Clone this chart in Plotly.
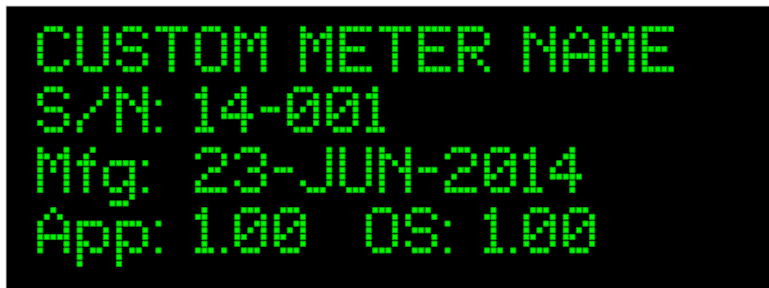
import plotly.graph_objects as go

# ---- content (text shown on the dot-matrix display) ----
TITLE = "CUSTOM METER NAME"
LABELS = ["S/N:", "Mfg:", "App:"]
VALUES = ["14-001", "23-JUN-2014", "1.00  OS: 1.00"]
VALUE_COL = 24      # values are aligned to this dot column
SPACE_W = 3         # width of a space glyph (dots)

# ---- 5x7 (proportional) dot font, rows 7-8 are descenders ----
FONT = {
    'C': [".###.", "#...#", "#....", "#....", "#....", "#...#", ".###."],
    'U': ["#...#", "#...#", "#...#", "#...#", "#...#", "#...#", ".###."],
    'S': [".###.", "#...#", "#....", ".###.", "....#", "#...#", ".###."],
    'T': ["#####", "..#..", "..#..", "..#..", "..#..", "..#..", "..#.."],
    'O': [".###.", "#...#", "#...#", "#...#", "#...#", "#...#", ".###."],
    'M': ["#...#", "##.##", "#.#.#", "#.#.#", "#...#", "#...#", "#...#"],
    'E': ["#####", "#....", "#....", "####.", "#....", "#....", "#####"],
    'R': ["####.", "#...#", "#...#", "####.", "#.#..", "#..#.", "#...#"],
    'N': ["#...#", "##..#", "#.#.#", "#..##", "#...#", "#...#", "#...#"],
    'A': ["..#..", ".#.#.", "#...#", "#...#", "#####", "#...#", "#...#"],
    'J': ["....#", "....#", "....#", "....#", "....#", "#...#", ".###."],
    '/': ["....#", "....#", "...#.", "..#..", ".#...", "#....", "#...."],
    ':': [".", ".", "#", ".", ".", ".", "#"],
    '.': [".", ".", ".", ".", ".", ".", "#"],
    '-': ["...", "...", "...", "###", "...", "...", "..."],
    '0': [".###.", "#...#", "#..##", "#.#.#", "##..#", "#...#", ".###."],
    '1': [".#.", "##.", ".#.", ".#.", ".#.", ".#.", "###"],
    '2': [".###.", "#...#", "....#", "..##.", ".#...", "#....", "#####"],
    '3': [".###.", "#...#", "....#", "..##.", "....#", "#...#", ".###."],
    '4': ["...#.", "..##.", ".#.#.", "#..#.", "#####", "...#.", "...#."],
    'f': ["..#", ".#.", "###", ".#.", ".#.", ".#.", ".#."],
    'g': [".....", ".....", ".####", "#...#", "#...#", "#..##", ".##.#", "....#", ".###."],
    'p': [".....", ".....", "####.", "#...#", "#...#", "##..#", "#.##.", "#....", "#...."],
}

# ---- display geometry (pixels) ----
W, H = 769, 288
X0, Y0 = 40.2, 29.0        # centre of first dot
PX, PY = 6.57, 6.71        # dot pitch
LINE_ROWS = 9


def text_dots(text, start_col, line):
    cols, rows = [], []
    col = start_col
    for ch in text:
        if ch == ' ':
            col += SPACE_W + 1
            continue
        g = FONT[ch]
        for r, row in enumerate(g):
            for c, v in enumerate(row):
                if v == '#':
                    cols.append(col + c)
                    rows.append(line * LINE_ROWS + r)
        col += len(g[0]) + 1
    return cols, rows


all_c, all_r = [], []
c, r = text_dots(TITLE, 0, 0)
all_c += c; all_r += r
for i, (lab, val) in enumerate(zip(LABELS, VALUES), start=1):
    c, r = text_dots(lab, 0, i)
    all_c += c; all_r += r
    c, r = text_dots(val, VALUE_COL, i)
    all_c += c; all_r += r

xs = [X0 + cc * PX for cc in all_c]
ys = [Y0 + rr * PY for rr in all_r]

fig = go.Figure()
fig.add_trace(go.Scatter(
    x=xs, y=ys, mode="markers",
    marker=dict(symbol="square", size=5.2, color="#00f800",
                line=dict(width=1, color="#00a800")),
    hoverinfo="skip", showlegend=False,
))

fig.add_shape(type="rect", x0=6, x1=W + 10, y0=6, y1=H + 10,
              fillcolor="#000000", line=dict(color="#c8c8c8", width=1),
              layer="below")

fig.update_layout(
    width=W, height=H,
    margin=dict(l=0, r=0, t=0, b=0),
    paper_bgcolor="#ffffff", plot_bgcolor="#ffffff",
    xaxis=dict(range=[0, W], visible=False, fixedrange=True),
    yaxis=dict(range=[H, 0], visible=False, fixedrange=True),
)

fig.write_html(
    "out.html",
    config={"displayModeBar": False},
    post_script="document.body.style.margin='0px';document.body.style.overflow='hidden';",
)
